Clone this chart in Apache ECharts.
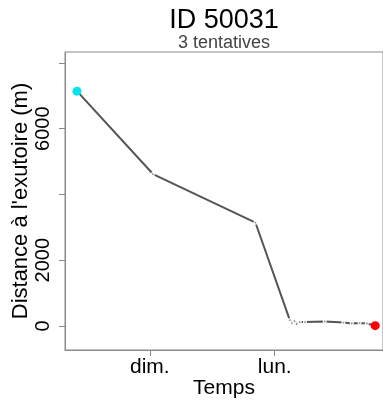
<!DOCTYPE html>
<html>
<head>
<meta charset="utf-8">
<script src="https://cdn.jsdelivr.net/npm/echarts@6/dist/echarts.min.js"></script>
<style>
html,body{margin:0;padding:0;background:#fff;}
#c{width:383px;height:403px;}
</style>
</head>
<body>
<div id="c"></div>
<script>
// Time in hours since Saturday 00:00
var times = [10.0, 24.6, 44.3, 50.9, 51.3, 51.8, 52.2, 52.8, 53.8, 57.6, 61.2, 62.8, 64.3, 65.7, 67.3];
var distances = [7140, 4620, 3140, 180, 90, 150, 60, 120, 120, 140, 105, 75, 90, 75, 10];
var xTickValues = [24, 48];
var xTickLabels = ['dim.', 'lun.'];
var yTickValues = [0, 2000, 4000, 6000, 8000];
var yLabelValues = [0, 2000, 6000];

var FONT = '"Liberation Sans", Arial, sans-serif';
var GRAY = '#8a8a8a';

var data = times.map(function (t, i) {
  var first = i === 0, last = i === times.length - 1;
  return {
    value: [t, distances[i]],
    symbolSize: (first || last) ? 9 : 3,
    itemStyle: first ? {color: '#00e5ee', borderWidth: 0}
             : last ? {color: '#ff0000', borderWidth: 0}
             : {color: '#7f8a80', borderColor: '#ffffff', borderWidth: 1.2}
  };
});

var chart = echarts.init(document.getElementById('c'), null, {renderer: 'canvas'});
chart.setOption({
  animation: false,
  backgroundColor: '#ffffff',
  title: [
    {text: 'ID 50031', left: 219, top: 2, textAlign: 'center',
     textStyle: {fontFamily: FONT, fontSize: 27, fontWeight: 'normal', color: '#000'}},
    {text: '3 tentatives', left: 219, top: 29, textAlign: 'center',
     textStyle: {fontFamily: FONT, fontSize: 18, fontWeight: 'normal', color: '#444'}}
  ],
  grid: {left: 65, top: 52, right: 0, bottom: 53, show: true, borderColor: GRAY, borderWidth: 1,
         containLabel: false, outerBoundsMode: 'none'},
  xAxis: {
    type: 'value', min: 7.7, max: 68.8, position: 'bottom',
    name: 'Temps', nameLocation: 'middle', nameGap: 28, nameMoveOverlap: false,
    nameTextStyle: {fontFamily: FONT, fontSize: 21, color: '#000'},
    axisLine: {show: true, onZero: false, lineStyle: {color: GRAY, width: 1}},
    splitLine: {show: false},
    axisTick: {show: true, inside: false, length: 6, lineStyle: {color: GRAY, width: 1}, customValues: xTickValues},
    axisLabel: {fontFamily: FONT, fontSize: 21, color: '#000', margin: 7,
      customValues: xTickValues,
      formatter: function (v) { var k = xTickValues.indexOf(v); return k >= 0 ? xTickLabels[k] : ''; }}
  },
  yAxis: {
    type: 'value', min: -730, max: 8330, position: 'left',
    name: "Distance à l'exutoire (m)", nameLocation: 'middle', nameGap: 33, nameRotate: 90, nameMoveOverlap: false,
    nameTextStyle: {fontFamily: FONT, fontSize: 22, color: '#000'},
    axisLine: {show: true, onZero: false, lineStyle: {color: GRAY, width: 1}},
    splitLine: {show: false},
    axisTick: {show: true, length: 6, lineStyle: {color: GRAY}, customValues: yTickValues},
    axisLabel: {fontFamily: FONT, fontSize: 20, color: '#000', rotate: 90, margin: 12,
      customValues: yLabelValues,
      formatter: function (v) { return String(v); }}
  },
  series: [{
    type: 'line',
    data: data,
    symbol: 'circle',
    showAllSymbol: true,
    lineStyle: {color: '#555555', width: 2},
    z: 3
  }]
});
</script>
</body>
</html>
